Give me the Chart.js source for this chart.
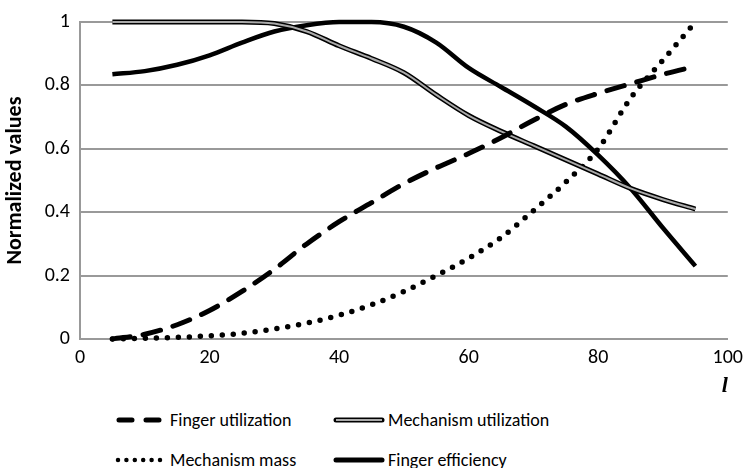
<!DOCTYPE html>
<html>
<head>
<meta charset="utf-8">
<script src="https://cdn.jsdelivr.net/npm/chart.js@4.4.1/dist/chart.umd.min.js"></script>
<style>
 body { margin:0; background:#fff; }
 #wrap { position:relative; width:750px; height:468px; }
 #box { position:absolute; left:0; top:0; width:750px; height:400px; }
 .leg { position:absolute; font-family: Carlito, Lato, sans-serif; font-size:18px; color:#000; line-height:20px; white-space:nowrap; }
 .leg svg { position:absolute; left:0; top:0; }
 .leg span { position:absolute; top:0; }
</style>
</head>
<body>
<div id="wrap">
 <div id="box"><canvas id="myChart" width="750" height="400"></canvas></div>
 <div class="leg" style="left:115px;top:410px;"><svg width="50" height="20"><line x1="4" y1="10" x2="44" y2="10" stroke="#000" stroke-width="5" stroke-dasharray="13,14" stroke-linecap="round"/></svg><span style="left:55px">Finger utilization</span></div>
 <div class="leg" style="left:333px;top:410px;"><svg width="52" height="20"><line x1="3" y1="10" x2="49" y2="10" stroke="#000" stroke-width="5" stroke-linecap="round"/><line x1="3" y1="10" x2="49" y2="10" stroke="#aaa" stroke-width="2"/></svg><span style="left:55px">Mechanism utilization</span></div>
 <div class="leg" style="left:115px;top:450px;"><svg width="50" height="20"><line x1="3" y1="10" x2="46" y2="10" stroke="#000" stroke-width="4.5" stroke-dasharray="0,8.4" stroke-linecap="round"/></svg><span style="left:55px">Mechanism mass</span></div>
 <div class="leg" style="left:333px;top:450px;"><svg width="52" height="20"><line x1="3" y1="10" x2="49" y2="10" stroke="#000" stroke-width="5" stroke-linecap="round"/></svg><span style="left:55px">Finger efficiency</span></div>
</div>
<script>
// x positions (l) and the four normalized series
var lValues = [5,10,15,20,25,30,35,40,45,50,55,60,65,70,75,80,85,90,95];
var fingerUtilization = [0.0,0.015,0.045,0.09,0.15,0.22,0.3,0.37,0.43,0.49,0.54,0.585,0.635,0.69,0.74,0.775,0.805,0.835,0.86];
var mechanismUtilization = [1,1,1,1,1,0.995,0.97,0.925,0.885,0.84,0.77,0.705,0.655,0.61,0.565,0.52,0.475,0.44,0.41];
var mechanismMass = [0.0,0.002,0.005,0.01,0.018,0.032,0.05,0.075,0.108,0.15,0.2,0.255,0.32,0.405,0.495,0.6,0.76,0.88,1.0];
var fingerEfficiency = [0.835,0.845,0.865,0.895,0.935,0.97,0.99,1.0,1.0,0.985,0.935,0.855,0.795,0.735,0.67,0.58,0.475,0.35,0.23];
var xTicks = [0,20,40,60,80,100];
var yTicks = [0,0.2,0.4,0.6,0.8,1];

function pts(arr){
  return arr.map(function(v,i){ return {x: lValues[i], y: v}; });
}

var common = { pointRadius:0, cubicInterpolationMode:'monotone', fill:false, clip:false };
var tickFont = { family:'Carlito, Lato, sans-serif', size:20 };

var ctx = document.getElementById('myChart').getContext('2d');
window.chart = new Chart(ctx, {
  type: 'line',
  data: {
    datasets: [
      // first dataset is drawn on top
      Object.assign({ label:'Finger utilization', data: pts(fingerUtilization), borderColor:'#000', borderWidth:5, borderDash:[18,13], borderCapStyle:'round' }, common),
      Object.assign({ label:'Mechanism utilization (inner)', data: pts(mechanismUtilization), borderColor:'#aaa', borderWidth:2 }, common),
      Object.assign({ label:'Mechanism utilization', data: pts(mechanismUtilization), borderColor:'#000', borderWidth:5 }, common),
      Object.assign({ label:'Mechanism mass', data: pts(mechanismMass), borderColor:'#000', borderWidth:5.5, borderDash:[0,11], borderCapStyle:'round' }, common),
      Object.assign({ label:'Finger efficiency', data: pts(fingerEfficiency), borderColor:'#000', borderWidth:4.5 }, common)
    ]
  },
  options: {
    responsive:false,
    animation:false,
    layout: { padding: { left:0, right:19, top:15, bottom:0 } },
    plugins: { legend:{ display:false }, tooltip:{ enabled:false } },
    scales: {
      x: {
        type:'linear', min:0, max:100,
        afterBuildTicks: function(s){ s.ticks = xTicks.map(function(v){ return {value:v}; }); },
        grid:{ display:false, drawTicks:false },
        border:{ color:'#999', width:2 },
        ticks:{ padding:7, color:'#000', font:tickFont },
        title:{ display:true, text:'l', align:'end', padding:{top:0,bottom:0}, color:'#000', font:{ family:'Liberation Serif, serif', size:22, style:'italic', weight:'bold' } },
        afterFit: function(s){ s.height = 61; }
      },
      y: {
        min:0, max:1,
        afterBuildTicks: function(s){ s.ticks = yTicks.map(function(v){ return {value:v}; }); },
        grid:{ color:'#999', lineWidth:2, drawTicks:false },
        border:{ color:'#999', width:2 },
        ticks:{ padding:10, color:'#000', font:tickFont, callback: function(v){ return String(v); } },
        title:{ display:true, text:'Normalized values', color:'#000', padding:{top:2,bottom:0}, font:{ family:'Carlito, Lato, sans-serif', size:22, weight:'bold' } },
        afterFit: function(s){ s.width = 80; }
      }
    }
  }
});
</script>
</body>
</html>
